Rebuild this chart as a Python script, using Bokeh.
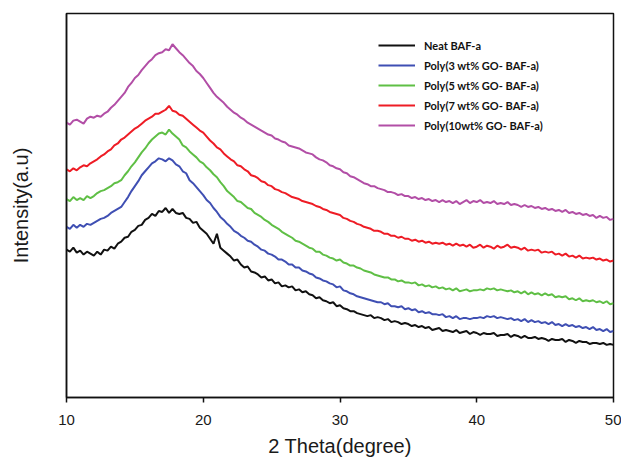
import numpy as np
from bokeh.plotting import figure
from bokeh.models import Range1d, FixedTicker, Legend, LegendItem
from bokeh.embed import file_html
from bokeh.resources import INLINE

# 2-theta sampling grid (degrees), 0.25 deg steps from 10 to 50
two_theta = np.linspace(10, 50, 161)

# intensities (arbitrary units) at 0.25 deg steps
neat = [
    149, 147, 151, 146, 148, 144, 147, 145, 143, 147, 144, 149, 148, 152, 150, 155,
    157, 161, 162, 167, 169, 173, 174, 179, 181, 185, 183, 188, 187, 191, 186, 190,
    186, 185, 186, 181, 180, 176, 177, 171, 168, 165, 160, 155, 165, 151, 148, 145,
    142, 138, 139, 134, 131, 132, 127, 126, 124, 121, 122, 118, 119, 115, 116, 112,
    113, 111, 112, 108, 109, 106, 107, 104, 103, 100, 101, 98, 97, 95, 96, 92,
    93, 90, 89, 87, 87, 85, 84, 83, 82, 83, 80, 81, 80, 78, 79, 76,
    77, 76, 74, 75, 74, 72, 73, 71, 72, 70, 71, 68, 69, 70, 67, 68,
    67, 66, 68, 65, 66, 67, 64, 66, 65, 63, 65, 64, 64, 65, 62, 63,
    63, 64, 61, 63, 62, 60, 62, 60, 60, 61, 59, 60, 59, 57, 59, 58,
    58, 59, 56, 58, 57, 55, 57, 56, 56, 54, 55, 55, 54, 55, 53, 54,
    53,
]
go3 = [
    172, 170, 174, 171, 174, 172, 175, 174, 176, 178, 180, 181, 183, 186, 188, 190,
    192, 197, 202, 208, 213, 218, 224, 228, 232, 236, 238, 241, 240, 238, 241, 239,
    235, 233, 228, 226, 219, 216, 212, 208, 204, 199, 196, 191, 187, 182, 179, 175,
    172, 168, 166, 163, 161, 158, 157, 154, 152, 149, 148, 145, 144, 142, 139, 139,
    137, 134, 134, 131, 131, 128, 127, 125, 124, 121, 120, 118, 117, 115, 114, 111,
    112, 108, 107, 105, 104, 102, 101, 100, 99, 98, 97, 96, 96, 94, 95, 92,
    92, 91, 92, 89, 90, 88, 89, 86, 87, 85, 86, 84, 84, 83, 84, 81,
    82, 80, 82, 79, 80, 80, 79, 80, 80, 81, 80, 82, 81, 82, 80, 81,
    80, 79, 80, 78, 79, 77, 79, 76, 78, 76, 77, 75, 76, 74, 76, 73,
    74, 72, 74, 72, 73, 71, 72, 70, 71, 69, 71, 68, 69, 67, 69, 66,
    67,
]
go5 = [
    200, 198, 202, 199, 201, 199, 203, 201, 203, 206, 208, 209, 211, 213, 216, 217,
    219, 224, 228, 233, 237, 242, 247, 251, 256, 260, 263, 266, 267, 265, 270, 266,
    263, 260, 254, 252, 248, 245, 242, 238, 236, 232, 229, 225, 222, 217, 213, 208,
    205, 202, 198, 197, 194, 191, 190, 186, 184, 182, 179, 177, 174, 172, 170, 167,
    165, 163, 161, 158, 157, 155, 153, 151, 150, 147, 147, 144, 143, 141, 140, 138,
    139, 136, 135, 133, 133, 131, 130, 128, 127, 126, 124, 123, 122, 121, 121, 119,
    119, 117, 118, 116, 116, 115, 116, 113, 114, 112, 113, 111, 112, 110, 111, 109,
    110, 108, 110, 107, 108, 109, 107, 108, 108, 109, 108, 110, 109, 110, 108, 109,
    108, 107, 108, 106, 107, 105, 107, 104, 106, 104, 105, 103, 105, 103, 104, 101,
    102, 101, 102, 99, 100, 98, 100, 97, 98, 97, 98, 96, 97, 95, 97, 94,
    95,
]
go7 = [
    230, 228, 231, 229, 232, 234, 233, 236, 238, 240, 243, 245, 248, 250, 254, 256,
    260, 262, 265, 268, 271, 273, 276, 279, 281, 283, 286, 286, 288, 290, 294, 289,
    288, 285, 284, 281, 278, 275, 272, 269, 267, 263, 259, 256, 252, 250, 246, 243,
    240, 238, 234, 233, 230, 228, 224, 223, 221, 218, 217, 214, 213, 210, 209, 207,
    206, 204, 202, 201, 200, 198, 197, 196, 195, 193, 192, 190, 189, 187, 186, 185,
    184, 181, 180, 178, 177, 175, 174, 172, 171, 170, 168, 168, 167, 165, 165, 163,
    163, 161, 162, 160, 160, 158, 159, 157, 158, 156, 157, 155, 156, 155, 156, 154,
    155, 153, 155, 153, 154, 152, 154, 151, 152, 154, 151, 153, 152, 150, 153, 151,
    152, 154, 151, 152, 151, 149, 151, 148, 149, 148, 149, 146, 147, 146, 147, 144,
    145, 143, 145, 142, 143, 141, 143, 140, 141, 140, 141, 139, 140, 138, 139, 137,
    138,
]
go10 = [
    277, 275, 279, 280, 278, 276, 281, 283, 282, 284, 283, 286, 288, 292, 295, 299,
    303, 307, 313, 317, 322, 325, 330, 334, 338, 341, 345, 347, 348, 351, 350, 356,
    352, 348, 345, 341, 337, 334, 329, 326, 322, 317, 312, 307, 303, 300, 297, 293,
    290, 287, 285, 282, 280, 277, 275, 273, 271, 269, 267, 265, 264, 261, 260, 258,
    257, 254, 253, 252, 251, 249, 247, 246, 245, 242, 240, 239, 237, 234, 233, 231,
    230, 227, 226, 223, 222, 220, 218, 216, 215, 213, 213, 211, 210, 209, 207, 207,
    206, 204, 205, 203, 203, 201, 202, 200, 201, 199, 200, 198, 199, 197, 199, 197,
    198, 196, 198, 195, 197, 199, 196, 198, 197, 199, 196, 197, 196, 198, 195, 196,
    195, 197, 194, 195, 194, 192, 194, 192, 193, 191, 192, 190, 191, 189, 190, 188,
    189, 187, 189, 186, 187, 185, 186, 184, 185, 183, 184, 181, 183, 181, 182, 179,
    180,
]

series_names = [
    "Neat BAF-a",
    "Poly(3 wt% GO- BAF-a)",
    "Poly(5 wt% GO- BAF-a)",
    "Poly(7 wt% GO- BAF-a)",
    "Poly(10wt% GO- BAF-a)",
]
series_values = [neat, go3, go5, go7, go10]
series_colors = ["#111111", "#3f4fb3", "#5fbf45", "#ee1c25", "#b24ea6"]
x_ticks = [10, 20, 30, 40, 50]

p = figure(
    width=621, height=459,
    output_backend="svg", toolbar_location=None,
    x_range=Range1d(10, 50), y_range=Range1d(0, 387),
    min_border_left=66, min_border_right=8, min_border_top=13, min_border_bottom=59,
)
p.background_fill_color = "white"
p.border_fill_color = "white"
p.outline_line_color = "#111111"
p.outline_line_width = 1.5
p.xgrid.visible = False
p.ygrid.visible = False

renderers = []
for name, vals, col in zip(series_names, series_values, series_colors):
    r = p.line(two_theta, vals, line_color=col, line_width=2)
    renderers.append((name, r))

# x axis
p.xaxis.ticker = FixedTicker(ticks=x_ticks)
p.xaxis.axis_line_color = "#111111"
p.xaxis.axis_line_width = 1.5
p.xaxis.major_tick_line_color = "#111111"
p.xaxis.major_tick_line_width = 1.5
p.xaxis.major_tick_in = 0
p.xaxis.major_tick_out = 5
p.xaxis.minor_tick_line_color = None
p.xaxis.major_label_text_font = "Liberation Sans"
p.xaxis.major_label_text_font_size = "15px"
p.xaxis.major_label_text_color = "#1a1a1a"
p.xaxis.major_label_standoff = 12
p.xaxis.axis_label = "2 Theta(degree)"
p.xaxis.axis_label_text_font = "Liberation Sans"
p.xaxis.axis_label_text_font_style = "normal"
p.xaxis.axis_label_text_font_size = "20px"
p.xaxis.axis_label_text_color = "#1a1a1a"
p.xaxis.axis_label_standoff = 7

# y axis: line only, no ticks
p.yaxis.ticker = FixedTicker(ticks=[])
p.yaxis.axis_line_color = "#111111"
p.yaxis.axis_line_width = 1.5
p.yaxis.major_tick_line_color = None
p.yaxis.minor_tick_line_color = None
p.yaxis.axis_label = "Intensity(a.u)"
p.yaxis.axis_label_text_font = "Liberation Sans"
p.yaxis.axis_label_text_font_style = "normal"
p.yaxis.axis_label_text_font_size = "20px"
p.yaxis.axis_label_text_color = "#1a1a1a"
p.yaxis.axis_label_standoff = 35

legend = Legend(
    items=[LegendItem(label=n, renderers=[r]) for n, r in renderers],
    location=(312, 262),
    padding=0, margin=0, spacing=0,
    glyph_width=37, glyph_height=20, label_height=20,
    label_standoff=9,
    label_text_font="Lato", label_text_font_style="bold",
    label_text_font_size="11px", label_text_color="#111111",
    border_line_color=None, background_fill_alpha=0,
)
p.add_layout(legend, "center")

open("out.html", "w").write(file_html(p, INLINE))
